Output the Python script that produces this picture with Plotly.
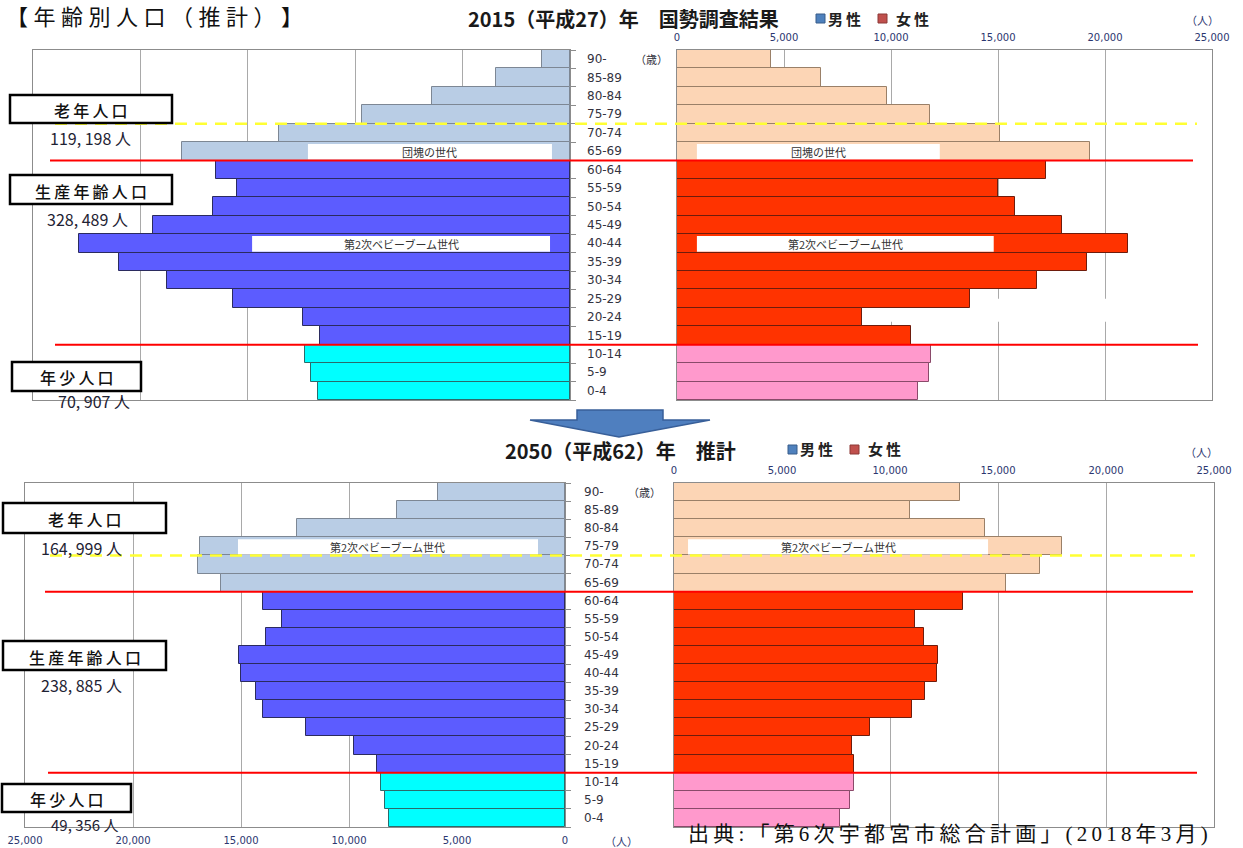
import plotly.graph_objects as go

W, H = 1243, 848
CJK = "Noto Sans CJK JP"
SANS = "DejaVu Sans"

# ---- data -------------------------------------------------------------
ages = ["90-", "85-89", "80-84", "75-79", "70-74", "65-69", "60-64", "55-59",
        "50-54", "45-49", "40-44", "35-39", "30-34", "25-29", "20-24", "15-19",
        "10-14", "5-9", "0-4"]
age_start = [90, 85, 80, 75, 70, 65, 60, 55, 50, 45, 40, 35, 30, 25, 20, 15, 10, 5, 0]

male_2015 = [1300, 3440, 6420, 9680, 13550, 18060, 16480, 15500, 16620, 19410,
             22860, 20990, 18760, 15690, 12430, 11640, 12340, 12060, 11730]
female_2015 = [4390, 6720, 9810, 11810, 15080, 19290, 17230, 14990, 15780, 17980,
               21060, 19150, 16810, 13680, 8640, 10930, 11860, 11770, 11250]
male_2050 = [5880, 7780, 12410, 16900, 16990, 15930, 13980, 13100, 13840, 15090,
             15000, 14310, 13980, 11990, 9770, 8700, 8520, 8330, 8150]
female_2050 = [13240, 10930, 14400, 17960, 16950, 15370, 13380, 11160, 11580, 12220,
               12180, 11620, 11020, 9070, 8240, 8330, 8330, 8150, 7690]

group_names = ["老年人口", "生産年齢人口", "年少人口"]
totals_2015 = ["119, 198 人", "328, 489 人", "70, 907 人"]
totals_2050 = ["164, 999 人", "238, 885 人", "49, 356 人"]

axis_ticks = [0, 5000, 10000, 15000, 20000, 25000]

title_main = "【年齢別人口（推計）】"
title_2015 = "2015（平成27）年　国勢調査結果"
title_2050 = "2050（平成62）年　推計"
source_text = "出典:「第6次宇都宮市総合計画」(2018年3月)"

# ---- helpers ----------------------------------------------------------
ypos = list(range(len(ages) - 1, -1, -1))   # 90- on top, 0-4 at bottom


def px(x):
    return x / W


def py(y):
    return 1 - y / H


def by_group(young, work, old):
    return [young if s < 15 else (work if s < 65 else old) for s in age_start]


male_fill = by_group("#00ffff", "#5c5cff", "#b9cde5")
male_edge = by_group("#2a6b6b", "#2b2b5e", "#7d8794")
female_fill = by_group("#ff99cc", "#ff3300", "#fcd5b5")
female_edge = by_group("#8a4a6a", "#6e1c0c", "#9a8068")

fig = go.Figure()


def add_bars(values, fill, edge, xa, ya):
    fig.add_trace(go.Bar(
        x=values, y=ypos, orientation="h", width=1.0,
        marker=dict(color=fill, line=dict(color=edge, width=1)),
        xaxis=xa, yaxis=ya, showlegend=False,
        hovertemplate="%{x:,}<extra></extra>",
    ))


add_bars(male_2015, male_fill, male_edge, "x", "y")
add_bars(female_2015, female_fill, female_edge, "x2", "y2")
add_bars(male_2050, male_fill, male_edge, "x3", "y3")
add_bars(female_2050, female_fill, female_edge, "x4", "y4")

# ---- axes -------------------------------------------------------------
tick_font = dict(family=SANS, size=10, color="#2b3670")
GRID = "#a9a9a9"
LINE = "#8c8c8c"


def xaxis(dom, rng, anchor, side, labels):
    return dict(domain=[px(dom[0]), px(dom[1])], range=rng, anchor=anchor,
                side=side, showticklabels=labels, tickvals=axis_ticks,
                tickformat=",", tickfont=tick_font, ticks="",
                ticklabelstandoff=4, showgrid=True, gridcolor=GRID,
                gridwidth=1, showline=True, linecolor=LINE, linewidth=1,
                mirror=True, zeroline=False, fixedrange=True, automargin=False)


def yaxis(dom, anchor, side, ticks, match=None):
    d = dict(domain=[py(dom[1]), py(dom[0])], range=[-0.5, len(ages) - 0.5],
             anchor=anchor, side=side, showticklabels=False, showgrid=False,
             zeroline=False, showline=True, linecolor=LINE, linewidth=1,
             mirror=True, fixedrange=True, automargin=False)
    if ticks:
        d.update(tickvals=[k + 0.5 for k in range(-1, len(ages))],
                 ticks="outside", ticklen=5, tickcolor=LINE)
    else:
        d.update(ticks="")
    if match:
        d["matches"] = match
    return d


TOP = (50, 400)
BOT = (483, 827)

fig.update_layout(
    width=W, height=H, margin=dict(l=0, r=0, t=0, b=0, autoexpand=False),
    paper_bgcolor="white", plot_bgcolor="white", bargap=0,
    xaxis=xaxis((33, 570), [25000, 0], "y", "bottom", False),
    xaxis2=xaxis((677, 1212), [0, 25000], "y2", "top", True),
    xaxis3=xaxis((25, 565), [25000, 0], "y3", "bottom", True),
    xaxis4=xaxis((674, 1214), [0, 25000], "y4", "top", True),
    yaxis=yaxis(TOP, "x", "right", True),
    yaxis2=yaxis(TOP, "x2", "left", False, "y"),
    yaxis3=yaxis(BOT, "x3", "right", True),
    yaxis4=yaxis(BOT, "x4", "left", False, "y3"),
)

shapes = []
annotations = []


def note(text, x, y, size=12, color="#222", xanchor="center", yanchor="middle",
         family=CJK, weight="normal", yref="paper"):
    annotations.append(dict(
        text=text, x=px(x), y=py(y) if yref == "paper" else y,
        xref="paper", yref=yref, showarrow=False, xanchor=xanchor,
        yanchor=yanchor, font=dict(family=family, size=size, color=color,
                                   weight=weight)))


def spaced(s, sp="\u2009"):
    return sp.join(s)


# white patch in the 20-24 row of the 2015 female panel
shapes.append(dict(type="rect", xref="x2", yref="y2", x0=8640, x1=20300,
                   y0=3.75, y1=5.0, fillcolor="white", line=dict(width=0),
                   layer="between"))

# generation call-outs drawn over the bars
callouts = [
    ("x", "y", 12200, 840, "65-69", "団塊の世代"),
    ("x2", "y2", 930, 12280, "65-69", "団塊の世代"),
    ("x", "y", 14800, 930, "40-44", "第2次ベビーブーム世代"),
    ("x2", "y2", 930, 14800, "40-44", "第2次ベビーブーム世代"),
    ("x3", "y3", 15140, 1250, "75-79", "第2次ベビーブーム世代"),
    ("x4", "y4", 650, 14540, "75-79", "第2次ベビーブーム世代"),
]
for xa, ya, a, b, age, text in callouts:
    yc = ypos[ages.index(age)]
    shapes.append(dict(type="rect", xref=xa, yref=ya, x0=a, x1=b,
                       y0=yc - 0.45, y1=yc + 0.4, fillcolor="white",
                       line=dict(width=0), layer="above"))
    annotations.append(dict(text=text, x=(a + b) / 2, y=yc - 0.03, xref=xa,
                            yref=ya, showarrow=False,
                            font=dict(family=CJK, size=11, color="#333")))

# group boundaries (red) and the 75-79 / 70-74 divider (yellow dashed)
b_old = ypos[ages.index("65-69")] - 0.5
b_young = ypos[ages.index("10-14")] + 0.5
b_75 = ypos[ages.index("75-79")] - 0.5
for ya, yv, x0, x1, col, dash, w in [
    ("y", b_75, 55, 1197, "#ffff33", "12px,8px", 2.5),
    ("y", b_old, 50, 1193, "#ff0000", "solid", 2),
    ("y", b_young, 55, 1198, "#ff0000", "solid", 2),
    ("y3", b_75, 50, 1195, "#ffff33", "12px,8px", 2.5),
    ("y3", b_old, 45, 1193, "#ff0000", "solid", 2),
    ("y3", b_young, 48, 1197, "#ff0000", "solid", 2),
]:
    shapes.append(dict(type="line", xref="paper", yref=ya, x0=px(x0),
                       x1=px(x1), y0=yv, y1=yv, layer="above",
                       line=dict(color=col, width=w, dash=dash)))

# age labels in the centre column
for x_lab, x_unit, ya in [(585, 651, "y"), (582, 644, "y3")]:
    for a, yv in zip(ages, ypos):
        note(a, x_lab, yv, size=12, color="#333340", xanchor="left",
             family=SANS, yref=ya)
    note("（歳）", x_unit, ypos[0], size=11, color="#333340", yref=ya)

# group boxes with totals: box x0, x1, y0, y1, total y, total x, total size
boxes_2015 = [(10, 172, 95, 123, 138, 90, 16), (10, 172, 175, 204, 219, 87, 16),
              (12, 141, 362, 391, 401, 94, 16)]
boxes_2050 = [(3, 166, 503, 533, 548, 81, 16), (3, 166, 641, 670, 685, 81, 16),
              (2, 131, 784, 812, 824, 85, 15)]
for boxes, totals in [(boxes_2015, totals_2015), (boxes_2050, totals_2050)]:
    for (x0, x1, y0, y1, yt, xt, fs), name, tot in zip(boxes, group_names, totals):
        shapes.append(dict(type="rect", xref="paper", yref="paper",
                           x0=px(x0), x1=px(x1), y0=py(y1), y1=py(y0),
                           fillcolor="white", line=dict(color="black", width=2.5),
                           layer="above"))
        note(spaced(name), (x0 + x1) / 2, (y0 + y1) / 2 + 1, size=16,
             color="#111", weight=500)
        note(tot, xt, yt, size=fs, color="#1e2233")

# titles and legends
note(spaced(title_main, "\u2005"), 4, 15, size=22, color="#111", xanchor="left")
note(title_2015, 623, 18, size=20, color="#1a1a1a", weight="bold")
note(title_2050, 620, 450, size=20, color="#1a1a1a", weight="bold")

for xs, y in [((816, 826, 878, 894), 18), ((788, 798, 850, 866), 449)]:
    for sx, tx, fill, edge, label in [
        (xs[0], xs[1], "#4f81bd", "#385d8a", "男性"),
        (xs[2], xs[3], "#c0504d", "#8c3836", "女性"),
    ]:
        shapes.append(dict(type="rect", xref="paper", yref="paper",
                           x0=px(sx), x1=px(sx + 9), y0=py(y + 5), y1=py(y - 4),
                           fillcolor=fill, line=dict(color=edge, width=1)))
        note(spaced(label), tx, y, size=15, color="#222", xanchor="left",
             weight="bold")

# unit labels
note("（人）", 1202, 20, size=11, color="#2b3670")
note("（人）", 1201, 452, size=11, color="#2b3670")
note("（人）", 621, 841, size=11, color="#2b3670")

# arrow between the two pyramids
pts = [(577, 410), (663, 410), (663, 420), (710, 420), (619, 437),
       (530, 420), (577, 420)]
path = "M " + " L ".join(f"{px(x):.5f},{py(y):.5f}" for x, y in pts) + " Z"
shapes.append(dict(type="path", xref="paper", yref="paper", path=path,
                   fillcolor="#4f7fbf", line=dict(color="#385f99", width=1.5)))

# source line along the bottom edge
note(spaced(source_text), 686, 848, size=21, color="#111", xanchor="left",
     yanchor="bottom", family="Liberation Serif, " + CJK)

fig.update_layout(shapes=shapes, annotations=annotations)
fig.write_html("out.html")
